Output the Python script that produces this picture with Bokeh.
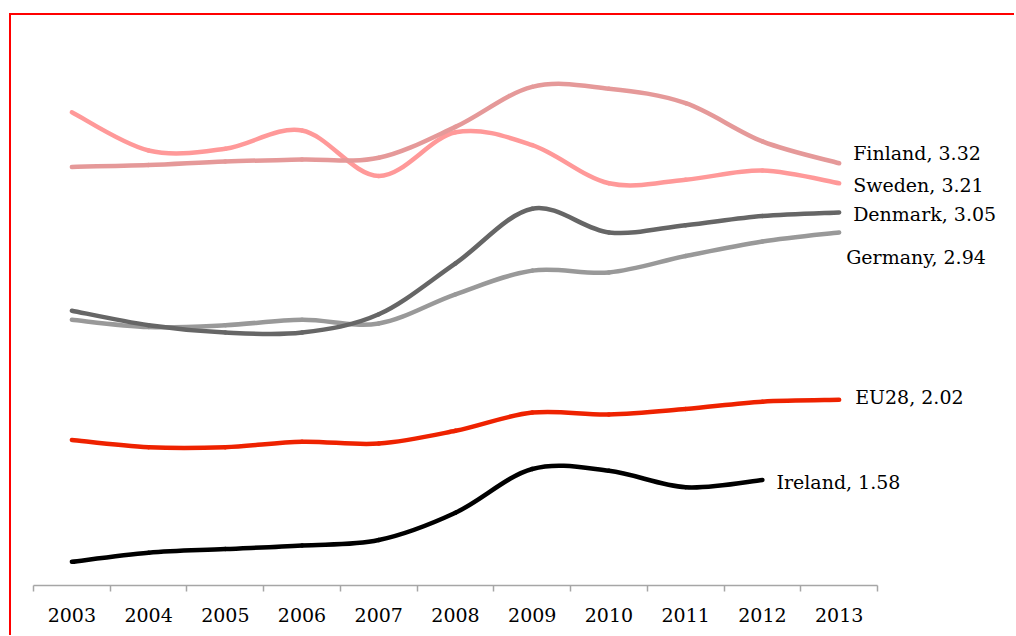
from bokeh.plotting import figure
from bokeh.models import ColumnDataSource, Range1d, FixedTicker, Label
from bokeh.embed import file_html
from bokeh.resources import INLINE

years = [2003, 2004, 2005, 2006, 2007, 2008, 2009, 2010, 2011, 2012, 2013]
year_labels = [str(y) for y in years]

finland = [3.30, 3.31, 3.33, 3.34, 3.35, 3.52, 3.74, 3.73, 3.65, 3.44, 3.32]
sweden = [3.60, 3.39, 3.40, 3.50, 3.25, 3.49, 3.42, 3.21, 3.23, 3.28, 3.21]
denmark = [2.51, 2.43, 2.39, 2.39, 2.49, 2.77, 3.07, 2.94, 2.98, 3.03, 3.05]
germany = [2.46, 2.42, 2.43, 2.46, 2.44, 2.60, 2.73, 2.72, 2.81, 2.89, 2.94]
eu28 = [1.80, 1.76, 1.76, 1.79, 1.78, 1.85, 1.95, 1.94, 1.97, 2.01, 2.02]
ireland = [1.13, 1.18, 1.20, 1.22, 1.25, 1.40, 1.64, 1.63, 1.54, 1.58]

FONT = "DejaVu Serif"

# layout (pixels); canvas sits inside a red left/top border
LEFT, TOP, CAT_W, FRAME_H = 22, 24, 844 / 11.0, 546
FRAME_W = 967

x0 = years[0] - 0.5
p = figure(output_backend="svg", toolbar_location=None,
           x_range=Range1d(x0, x0 + FRAME_W / CAT_W),
           y_range=Range1d(1.0, 4.0),
           y_axis_location=None,
           min_border_left=LEFT, min_border_right=14, min_border_top=TOP, min_border_bottom=50,
           frame_width=FRAME_W, frame_height=FRAME_H)
p.styles = {"border-left": "2px solid #FF0000", "border-top": "2px solid #FF0000",
            "margin-left": "9px", "margin-top": "13px"}
p.outline_line_color = None
p.grid.visible = False
p.background_fill_color = "white"
p.border_fill_color = "white"

ax = p.xaxis[0]
ax.bounds = (years[0] - 0.5, years[-1] + 0.5)
ax.ticker = FixedTicker(ticks=years, minor_ticks=[y - 0.5 for y in years] + [years[-1] + 0.5])
ax.major_label_overrides = {y: s for y, s in zip(years, year_labels)}
ax.major_tick_line_color = None
ax.major_tick_out = 6
ax.major_tick_in = 0
ax.minor_tick_line_color = "#A6A6A6"
ax.minor_tick_out = 6
ax.minor_tick_in = 0
ax.minor_tick_line_width = 1.5
ax.axis_line_color = "#A6A6A6"
ax.axis_line_width = 1.5
ax.major_label_text_font = FONT
ax.major_label_text_font_size = "19px"
ax.major_label_text_color = "black"
ax.major_label_standoff = 16


def bezier_source(xs, ys):
    n = len(xs)
    d = dict(x0=[], y0=[], x1=[], y1=[], cx0=[], cy0=[], cx1=[], cy1=[])
    for i in range(n - 1):
        im1 = max(i - 1, 0)
        ip2 = min(i + 2, n - 1)
        d["x0"].append(xs[i]); d["y0"].append(ys[i])
        d["x1"].append(xs[i + 1]); d["y1"].append(ys[i + 1])
        d["cx0"].append(xs[i] + (xs[i + 1] - xs[im1]) / 6.0)
        d["cy0"].append(ys[i] + (ys[i + 1] - ys[im1]) / 6.0)
        d["cx1"].append(xs[i + 1] - (xs[ip2] - xs[i]) / 6.0)
        d["cy1"].append(ys[i + 1] - (ys[ip2] - ys[i]) / 6.0)
    return ColumnDataSource(d)


series = [
    ("Ireland", ireland, "#000000", 14, -2),
    ("EU28", eu28, "#EE2200", 16, 3),
    ("Germany", germany, "#999999", 7, -25),
    ("Denmark", denmark, "#666666", 14, -2),
    ("Sweden", sweden, "#FF9999", 14, -2),
    ("Finland", finland, "#E59999", 14, 10),
]

for name, vals, color, xo, yo in series:
    xs = years[:len(vals)]
    src = bezier_source(xs, vals)
    p.bezier(x0="x0", y0="y0", x1="x1", y1="y1", cx0="cx0", cy0="cy0", cx1="cx1", cy1="cy1",
             source=src, line_color=color, line_width=4.5, line_cap="round")
    p.add_layout(Label(x=xs[-1], y=vals[-1], text=f"{name}, {vals[-1]:.2f}",
                       x_offset=xo, y_offset=yo, text_baseline="middle", text_align="left",
                       text_font=FONT, text_font_size="19px", text_color="black"))

open("out.html", "w").write(file_html(p, INLINE))
